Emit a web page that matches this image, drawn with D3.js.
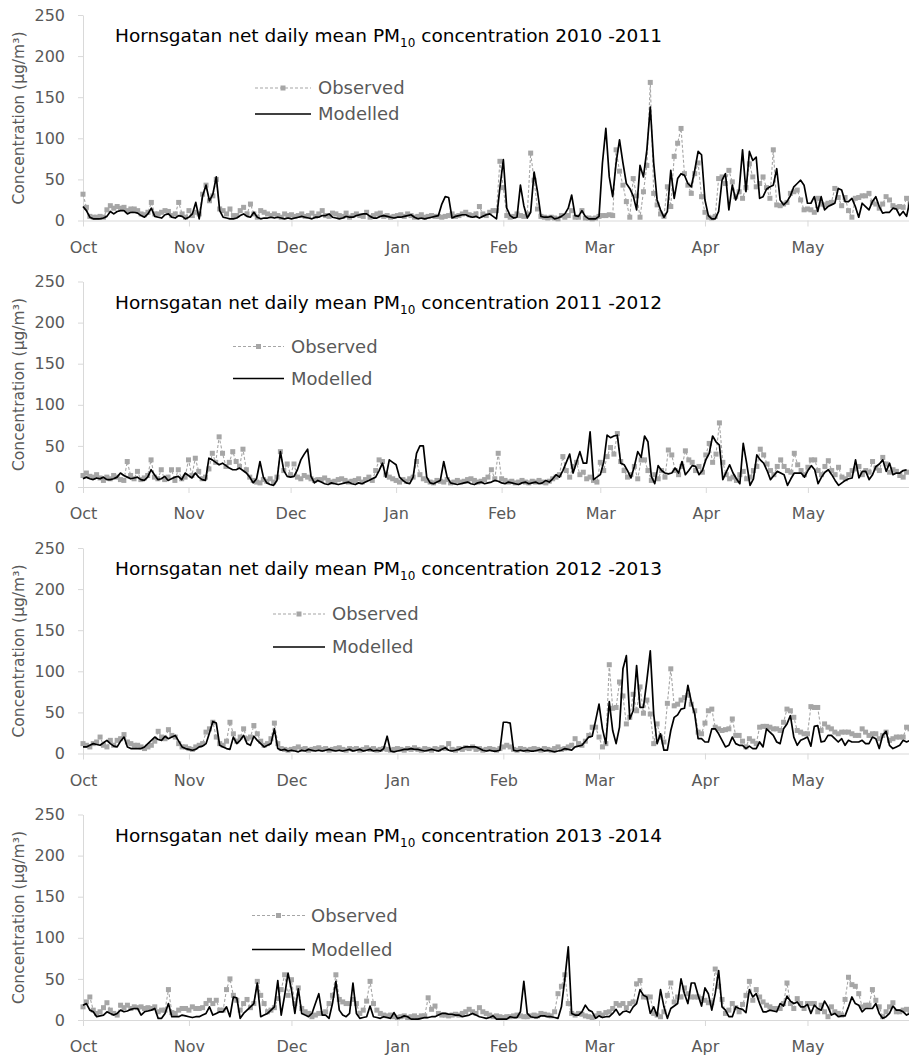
<!DOCTYPE html>
<html>
<head>
<meta charset="utf-8">
<script src="https://cdn.jsdelivr.net/npm/d3@7"></script>
<style>
  body { margin: 0; background: #fff; }
  svg text { font-family: "DejaVu Sans", sans-serif; }
</style>
</head>
<body>
<svg id="chart"></svg>
<script>

// ---- data (daily values from 1 Oct, µg/m3) ----
var yTicks = [0, 50, 100, 150, 200, 250];
var monthNames = ["Oct", "Nov", "Dec", "Jan", "Feb", "Mar", "Apr", "May"];
var seasons = ["2010 -2011", "2011 -2012", "2012 -2013", "2013 -2014"];
var startYears = [2010, 2011, 2012, 2013];

var obs1011 = [32,16,5,4,4,5,4,13,18,15, 17,15,16,12,14,14,12,8,7,10, 22,8,8,10,12,11,6,8,22,8,
  4,12,6,10,8,32,43,24,30,50, 14,12,8,14,6,6,12,16,8,20, 8,4,12,10,8,6,8,6,4,8,
  6,7,5,6,8,5,6,9,5,8, 12,6,5,9,8,6,5,9,4,6, 8,6,5,10,4,6,8,9,5,6, 4,5,6,7,5,8,6,4,5,7,
  4,5,6,5,5,4,5,6,8,5, 6,8,10,7,6,8,17,8,6,10, 12,12,72,40,6,4,5,8,6,5, 8,82,49,14,5,4,3,4,3,2,
  6,4,6,12,4,4,12,3,3,2, 3,5,6,6,7,6,86,60,43,23, 4,51,30,4,35,67,168,33,19,8, 5,41,17,78,94,112,57,43,33,57,
  70,29,10,4,3,5,51,53,45,61, 47,29,35,27,40,69,53,41,45,53, 40,27,86,19,18,20,22,33,35,37, 25,13,14,13,10,27,20,19,21,22,
  39,28,18,28,12,4,27,28,30,30, 33,22,20,15,20,29,25,18,16,17, 16,27,20];
var mod1011 = [17,12,4,2,2,2,3,5,11,8, 11,12,12,8,10,10,9,6,4,8, 15,5,4,3,7,8,4,3,6,5,
  2,4,8,22,2,30,43,24,32,53, 12,4,3,2,2,3,6,8,5,4, 10,4,2,3,3,4,3,4,3,2,
  3,2,3,4,5,4,3,2,4,4, 6,6,8,4,3,2,3,5,4,4, 6,7,8,8,5,3,3,5,6,5, 4,3,4,4,5,6,7,4,2,3,
  2,3,4,5,6,20,29,28,3,5, 6,7,7,5,4,5,3,5,7,8, 5,2,40,74,15,6,3,4,43,18, 3,10,59,35,5,4,4,5,2,3,
  5,8,15,31,6,5,12,5,2,2, 2,5,70,112,53,29,70,98,70,45, 39,30,13,67,53,86,138,70,25,13, 4,11,61,27,51,57,55,45,41,61,
  84,80,25,6,2,2,11,49,57,13, 43,25,37,86,35,84,73,77,27,29, 38,41,43,63,25,19,23,30,41,45, 49,43,21,21,29,11,29,13,17,19,
  21,39,37,23,23,27,17,4,21,17, 13,23,29,17,9,10,10,15,14,6, 11,5,25];

var obs1112 = [14,17,13,12,15,11,8,12,10,14, 12,9,8,31,14,10,19,9,11,14, 33,12,10,21,9,12,21,8,21,10,
  12,33,14,35,19,10,12,22,41,30, 61,41,25,30,43,31,25,46,21,12, 8,6,5,9,7,10,6,12,43,20,
  28,15,28,12,10,14,12,10,8,9, 9,11,8,6,7,9,10,8,6,7, 8,10,6,9,12,8,20,33,31,15, 12,10,8,6,9,7,10,12,31,15,
  10,8,6,5,8,7,6,9,5,6, 8,6,7,9,10,8,6,7,9,12, 21,10,41,10,8,6,7,5,6,8, 6,5,7,6,8,6,5,7,10,12,
  15,37,20,12,25,30,15,18,10,12, 8,6,30,20,37,48,40,65,31,20, 12,15,25,10,33,33,20,8,15,10, 20,12,45,39,20,15,25,44,33,30,
  20,25,18,39,53,30,40,78,30,15, 10,12,8,15,19,10,12,20,25,46, 39,28,20,15,25,33,25,20,18,41, 27,20,15,24,33,33,20,15,25,32,
  20,15,24,12,10,15,20,22,25,15, 20,18,31,23,20,36,28,18,21,19, 14,12,18];
var mod1112 = [10,12,10,9,11,10,12,9,9,10, 12,17,14,12,10,11,12,9,8,12, 21,15,9,10,13,8,10,12,13,9,
  17,14,11,17,12,9,8,35,33,30, 27,29,26,23,21,21,23,20,17,12, 5,10,31,12,5,3,2,8,43,20,
  13,12,13,21,33,40,46,13,5,8, 6,4,3,5,4,3,4,5,6,4, 3,5,4,6,8,10,12,20,29,12, 33,30,27,12,8,5,4,12,41,50,
  50,12,5,4,6,8,31,12,5,4, 3,4,5,6,4,3,5,6,4,5, 6,8,7,5,4,6,5,4,3,5, 6,4,5,6,4,5,8,6,10,15,
  12,20,30,40,17,30,43,29,29,67, 9,12,15,30,63,60,62,63,29,27, 20,11,25,43,36,62,55,13,4,26, 20,17,16,17,23,17,31,15,20,26,
  25,15,20,33,41,62,55,51,9,18, 27,17,10,4,53,29,2,10,39,33, 29,20,9,14,19,17,15,2,10,17, 17,17,12,20,26,21,4,12,18,21,
  15,8,2,5,8,10,11,33,11,19, 19,9,15,25,28,33,19,29,15,17, 17,20,21];

var obs1213 = [12,10,8,12,14,20,10,8,16,10, 16,18,23,14,12,10,10,8,6,8, 10,15,27,20,18,29,22,20,12,8,
  8,6,5,8,10,12,26,30,38,20, 12,10,15,38,24,15,20,30,18,20, 34,24,15,10,12,18,37,12,6,5,
  4,5,6,8,5,6,4,5,6,7, 5,6,4,5,6,7,5,4,6,5, 6,4,5,7,5,6,4,5,6,5, 4,5,6,5,4,6,5,7,5,4,
  6,5,4,6,5,7,6,12,5,4, 6,5,7,6,8,5,6,4,5,6, 5,4,6,8,10,8,5,4,6,5, 4,5,6,5,4,6,5,4,6,8,
  5,6,8,10,18,12,10,15,22,32, 32,20,8,12,108,55,56,87,70,36, 44,72,52,81,49,65,48,12,36,20, 14,61,103,58,60,65,68,71,60,52,
  26,24,37,52,54,32,30,28,29,30, 42,22,22,15,8,18,15,12,32,33, 33,32,30,30,28,38,54,52,44,28, 26,24,24,57,56,56,28,36,32,30,
  26,24,26,26,26,24,22,22,30,26, 22,24,24,18,22,26,16,18,20,20, 20,32,30];
var mod1213 = [8,8,10,12,11,10,13,16,12,9, 8,15,20,8,6,6,6,6,8,12, 16,20,17,16,21,18,20,22,15,8,
  6,5,4,5,8,9,12,25,39,37, 10,8,6,5,20,12,16,22,12,10, 21,16,12,8,10,12,30,6,4,5,
  3,4,3,2,4,3,5,4,3,4, 3,4,5,4,3,4,3,4,5,3, 4,5,3,4,5,3,4,3,6,21, 3,2,3,4,5,5,6,5,5,4,
  3,4,5,4,3,5,7,4,3,4, 5,7,8,8,8,8,6,4,3,4, 3,3,4,38,38,37,4,3,4,3, 4,3,3,4,5,3,4,3,2,3,
  4,6,5,4,8,9,10,15,20,21, 40,60,30,12,63,28,12,32,103,119, 42,52,107,56,56,89,125,48,12,24, 4,4,28,44,47,54,55,83,63,48,
  18,18,14,14,30,30,24,16,8,10, 20,12,10,10,6,9,6,6,14,8, 30,26,22,14,12,30,36,46,20,10, 16,18,20,9,33,34,14,15,22,22,
  18,14,18,10,16,14,14,14,16,12, 12,20,18,6,22,27,10,6,8,10, 16,14,16];

var obs1314 = [16,22,28,12,8,10,15,21,12,8, 6,18,15,18,14,16,15,16,14,15, 14,16,10,12,12,37,9,8,12,14,
  14,12,16,14,14,15,20,24,20,24, 12,12,37,50,30,24,12,20,25,15, 20,47,30,20,10,12,15,26,37,55,
  30,49,20,39,14,10,8,4,6,8, 8,10,20,30,55,25,22,20,20,25, 20,8,12,23,47,20,12,8,6,5, 6,4,3,4,5,3,4,5,3,5,
  5,27,13,17,8,6,6,5,6,7, 6,8,10,13,10,8,15,10,8,6, 4,5,4,3,4,4,5,6,5,4, 4,5,6,5,8,7,6,5,10,32,
  41,55,20,8,6,8,7,5,4,3, 5,8,6,9,10,14,20,18,20,15, 20,22,44,48,28,28,28,8,6,4, 10,30,45,22,28,28,39,32,28,28,
  28,26,24,21,21,62,41,25,8,12, 20,15,10,19,30,47,24,37,28,22, 18,16,14,14,14,20,45,20,14,26, 20,14,20,20,20,10,18,10,4,16,
  10,8,6,25,52,43,41,32,16,18, 18,37,24,16,4,10,16,21,10,10, 12,13,10];
var mod1314 = [18,20,12,10,4,5,6,10,8,6, 8,12,10,11,13,14,14,6,10,11, 12,14,2,2,8,20,4,4,4,6,
  5,4,3,4,4,6,8,16,6,8, 10,10,16,4,28,27,2,8,12,16, 20,45,4,6,8,12,16,48,6,30,
  57,37,8,38,8,6,4,8,20,32, 6,6,2,20,47,12,6,4,8,45, 8,2,3,4,17,4,3,2,4,3, 2,9,2,3,5,4,1,1,1,2,
  3,3,4,4,6,8,8,7,7,6, 6,4,5,6,8,6,4,3,2,3, 5,1,1,1,1,4,3,3,10,47, 8,4,3,3,5,5,4,4,3,2,
  16,50,89,8,6,6,10,18,12,10, 2,5,3,4,4,8,13,6,10,11, 9,16,20,37,30,28,8,16,5,37, 16,2,14,17,20,50,32,20,45,45,
  30,17,39,32,12,32,60,16,12,4, 4,16,14,13,9,37,28,32,20,10, 10,12,11,10,20,17,29,23,20,22, 16,16,19,8,18,14,12,23,16,6,
  8,4,5,5,16,28,20,18,10,14, 14,14,20,8,2,4,8,17,12,12, 10,6,8];

var observed = [obs1011, obs1112, obs1213, obs1314];
var modelled = [mod1011, mod1112, mod1213, mod1314];

// ---- layout ----
var width = 909, height = 1059;
var panelTop = [0, 266.5, 533, 799.5];
// legend: start/end of sample line, text x, rows y (relative to panel)
var legendPos = [
  {x1: 255, x2: 311, tx: 318, y1: 88, y2: 114},
  {x1: 233, x2: 284, tx: 291, y1: 80, y2: 112},
  {x1: 273, x2: 325, tx: 332, y1: 81, y2: 114},
  {x1: 252, x2: 305, tx: 311, y1: 116, y2: 150}
];

var axisColor = "#d9d9d9",
    textColor = "#595959",
    obsColor = "#a6a6a6";

var svg = d3.select("#chart")
    .attr("width", width)
    .attr("height", height);

svg.append("rect").attr("width", width).attr("height", height).attr("fill", "#fff");

seasons.forEach(function(season, i) {

  var g = svg.append("g")
      .attr("transform", "translate(0," + panelTop[i] + ")");

  var start = new Date(startYears[i], 9, 1),
      end = new Date(startYears[i] + 1, 4, 31);

  var x = d3.scaleTime()
      .domain([start, end])
      .range([83, 910]);

  var y = d3.scaleLinear()
      .domain([0, 250])
      .range([220.5, 15]);

  var xAxis = d3.axisBottom(x)
      .tickValues(d3.timeMonth.range(start, end))
      .tickFormat(function(d, k) { return monthNames[k]; })
      .tickSize(6)
      .tickSizeOuter(0)
      .tickPadding(15);

  var yAxis = d3.axisLeft(y)
      .tickValues(yTicks)
      .tickSize(5)
      .tickSizeOuter(0)
      .tickPadding(13);

  var gx = g.append("g")
      .attr("transform", "translate(0," + y(0) + ")")
      .call(xAxis);

  var gy = g.append("g")
      .attr("transform", "translate(83,0)")
      .call(yAxis);

  [gx, gy].forEach(function(a) {
    a.attr("font-family", null).attr("font-size", null);
    a.selectAll("path, line").attr("stroke", axisColor);
    a.selectAll("text").attr("fill", textColor).style("font-size", "16px");
  });

  g.append("text")
      .attr("transform", "translate(19," + 118 + ") rotate(-90)")
      .attr("text-anchor", "middle")
      .attr("dy", "0.35em")
      .attr("fill", textColor)
      .style("font-size", "15.5px")
      .text("Concentration (µg/m³)");

  // title with subscript
  var title = g.append("text")
      .attr("x", 115)
      .attr("y", 42)
      .attr("fill", "#000")
      .style("font-size", "18.5px");
  title.append("tspan").text("Hornsgatan net daily mean PM");
  title.append("tspan").attr("dy", 5).style("font-size", "12px").text("10");
  title.append("tspan").attr("dy", -5).text(" concentration " + season);

  var line = d3.line()
      .x(function(d, k) { return x(d3.timeDay.offset(start, k)); })
      .y(function(d) { return y(d); });

  // observed: dashed grey with square markers
  g.append("path")
      .datum(observed[i])
      .attr("fill", "none")
      .attr("stroke", obsColor)
      .attr("stroke-width", 1.1)
      .attr("stroke-dasharray", "3,2")
      .attr("d", line);

  g.selectAll(".obs")
      .data(observed[i])
    .enter().append("rect")
      .attr("class", "obs")
      .attr("x", function(d, k) { return x(d3.timeDay.offset(start, k)) - 2.5; })
      .attr("y", function(d) { return y(d) - 2.5; })
      .attr("width", 5)
      .attr("height", 5)
      .attr("fill", obsColor);

  // modelled: black line
  g.append("path")
      .datum(modelled[i])
      .attr("fill", "none")
      .attr("stroke", "#000")
      .attr("stroke-width", 1.7)
      .attr("stroke-linejoin", "round")
      .attr("d", line);

  // legend
  var lp = legendPos[i];
  g.append("line")
      .attr("x1", lp.x1).attr("x2", lp.x2).attr("y1", lp.y1).attr("y2", lp.y1)
      .attr("stroke", obsColor).attr("stroke-width", 1.1).attr("stroke-dasharray", "3,2");
  g.append("rect")
      .attr("x", (lp.x1 + lp.x2) / 2 - 2.5).attr("y", lp.y1 - 2.5)
      .attr("width", 5).attr("height", 5).attr("fill", obsColor);
  g.append("line")
      .attr("x1", lp.x1).attr("x2", lp.x2).attr("y1", lp.y2).attr("y2", lp.y2)
      .attr("stroke", "#000").attr("stroke-width", 1.7);

  g.append("text").attr("x", lp.tx).attr("y", lp.y1).attr("dy", "0.35em")
      .attr("fill", textColor).style("font-size", "18px").text("Observed");
  g.append("text").attr("x", lp.tx).attr("y", lp.y2).attr("dy", "0.35em")
      .attr("fill", textColor).style("font-size", "18px").text("Modelled");
});

</script>
</body>
</html>
